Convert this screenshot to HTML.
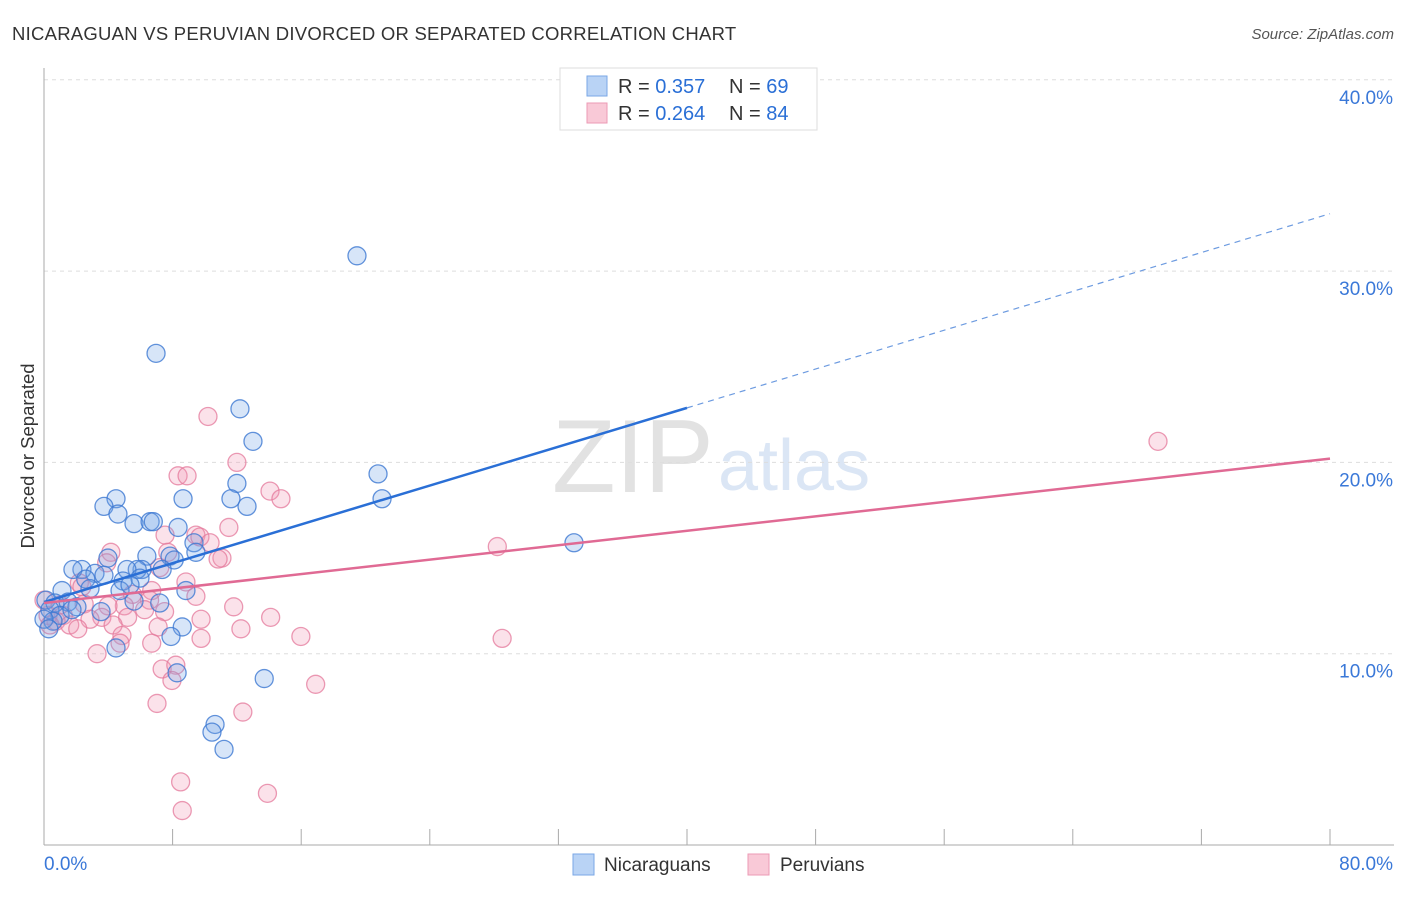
<!DOCTYPE html>
<html><head><meta charset="utf-8"><style>
body{margin:0;background:#fff;font-family:"Liberation Sans",sans-serif}
svg text{font-family:"Liberation Sans",sans-serif}
</style></head><body>
<svg id="chart" width="1406" height="892" xmlns="http://www.w3.org/2000/svg">
<text x="12" y="40" font-size="18.5" letter-spacing="0.25" fill="#333">NICARAGUAN VS PERUVIAN DIVORCED OR SEPARATED CORRELATION CHART</text>
<text x="1394" y="39" font-size="15" fill="#555" text-anchor="end" font-style="italic">Source: ZipAtlas.com</text>
<text transform="translate(34,456) rotate(-90)" font-size="18.5" fill="#333" text-anchor="middle">Divorced or Separated</text>
<g>
<text x="552" y="492" font-size="104" font-family="Liberation Serif" fill="#e2e2e2">ZIP</text>
<text x="718" y="490" font-size="72" fill="#dbe6f5">atlas</text>
</g>
<g id="grid"></g>
<g id="axes"></g>
<g id="pink"></g>
<g id="blue"></g>
<g id="trends"></g>
<g>
<rect x="560" y="68" width="257" height="62" fill="#fff" stroke="#ddd"/>
<rect x="587" y="76" width="20" height="20" fill="#b9d3f5" stroke="#7aa7e6"/>
<text x="618" y="93" font-size="20" fill="#333">R = <tspan fill="#2a6fd6">0.357</tspan></text>
<text x="729" y="93" font-size="20" fill="#333">N = <tspan fill="#2a6fd6">69</tspan></text>
<rect x="587" y="103" width="20" height="20" fill="#f9c9d7" stroke="#ec9ab4"/>
<text x="618" y="120" font-size="20" fill="#333">R = <tspan fill="#2a6fd6">0.264</tspan></text>
<text x="729" y="120" font-size="20" fill="#333">N = <tspan fill="#2a6fd6">84</tspan></text>
</g>
<g>
<rect x="573" y="854" width="21" height="21" fill="#b9d3f5" stroke="#7aa7e6"/>
<text x="604" y="871" font-size="19" fill="#333">Nicaraguans</text>
<rect x="748" y="854" width="21" height="21" fill="#f9c9d7" stroke="#ec9ab4"/>
<text x="780" y="871" font-size="19" fill="#333">Peruvians</text>
</g>
</svg>
<script>
const yTicks=[10,20,30,40];
const yTickLabels=["10.0%","20.0%","30.0%","40.0%"];
const xTicks=[0,8,16,24,32,40,48,56,64,72,80];
const blueX=[19.47,6.97,12.19,13.0,20.78,21.03,12.0,11.63,12.63,8.65,4.48,3.73,4.6,5.6,6.6,6.8,8.34,9.33,9.45,32.97,6.4,3.98,7.84,8.1,6.1,7.35,5.8,2.36,1.8,3.17,5.16,3.73,2.6,4.92,5.97,1.12,2.86,4.73,5.35,8.83,7.2,5.6,0.12,0.68,1.5,2.05,0.37,1.0,0.56,1.74,3.55,8.6,7.9,4.48,8.28,13.7,10.64,10.45,11.2,0,0.3];
const blueY=[30.8,25.7,22.8,21.1,19.4,18.1,18.9,18.1,17.7,18.1,18.1,17.7,17.3,16.8,16.9,16.9,16.6,15.8,15.3,15.8,15.1,15.0,15.1,14.9,14.4,14.4,14.4,14.4,14.4,14.2,14.4,14.1,13.9,13.8,13.95,13.3,13.4,13.3,13.6,13.3,12.65,12.75,12.8,12.65,12.7,12.45,12.3,12.0,11.7,12.3,12.2,11.4,10.9,10.3,9.0,8.7,6.3,5.9,5.0,11.8,11.3];
const pinkX=[69.3,10.2,12.0,8.34,8.9,14.06,14.74,11.5,9.45,9.7,10.33,7.53,28.2,7.7,11.07,10.83,4.16,3.9,7.2,2.2,2.36,6.7,8.83,6.57,9.45,5.5,5.0,3.98,2.5,11.8,6.26,7.5,9.77,14.1,5.2,3.6,1.2,0.25,0.75,1.6,2.86,4.3,2.1,7.1,12.25,4.85,4.73,6.7,9.77,15.98,28.5,3.3,7.35,8.2,7.96,16.9,7.03,12.37,8.5,13.9,8.6,0,0.37,1.0];
const pinkY=[21.1,22.4,20.0,19.3,19.3,18.5,18.1,16.6,16.2,16.1,15.8,16.2,15.6,15.3,15.0,14.95,15.3,14.75,14.5,13.7,13.5,13.3,13.75,12.8,13.0,13.1,12.5,12.5,12.6,12.45,12.3,12.2,11.8,11.9,11.9,11.9,12.0,12.0,11.7,11.5,11.8,11.5,11.3,11.4,11.3,10.95,10.55,10.55,10.8,10.9,10.8,10.0,9.2,9.4,8.6,8.4,7.4,6.95,3.3,2.7,1.8,12.8,11.5,12.55];
const blueTrend=[12.7,33.0];
const pinkTrend=[12.65,20.2];
const NS="http://www.w3.org/2000/svg";
const X0=44,X1=1330,Y0=845,pxPerY=19.13;
function xs(v){return X0+(X1-X0)*v/80;}
function ys(v){return Y0-v*pxPerY;}
function mk(t,a,p){const e=document.createElementNS(NS,t);for(const k in a)e.setAttribute(k,a[k]);p.appendChild(e);return e;}
const grid=document.getElementById('grid'),axes=document.getElementById('axes');
yTicks.forEach((v,i)=>{
 const l=mk('line',{x1:X0,x2:1394,y1:ys(v),y2:ys(v),stroke:'#ddd','stroke-dasharray':'4,4'},grid);
 
 
 const t=mk('text',{x:1393,y:ys(v)+24,'font-size':19,fill:'#3a78d8','text-anchor':'end'},axes);
 t.textContent=yTickLabels[i];
 
 
});
mk('line',{x1:X0,x2:X0,y1:68,y2:Y0,stroke:'#aaa'},axes);
mk('line',{x1:X0,x2:1394,y1:Y0,y2:Y0,stroke:'#aaa'},axes);
xTicks.forEach(v=>{
 const l=mk('line',{x1:xs(v),x2:xs(v),y1:Y0,y2:Y0-16,stroke:'#aaa'},axes);
 
 
});
let t=mk('text',{x:44,y:870,'font-size':19,fill:'#3a78d8'},axes);t.textContent='0.0%';


t=mk('text',{x:1393,y:870,'font-size':19,fill:'#3a78d8','text-anchor':'end'},axes);t.textContent='80.0%';


function pts(X,Y,g,fill,stroke,name){X.forEach((x,i)=>{
 const c=mk('circle',{cx:xs(x),cy:ys(Y[i]),r:9,fill:fill,stroke:stroke,'stroke-width':1.3},g);
 
 
});}
pts(pinkX,pinkY,document.getElementById('pink'),'rgba(242,150,180,0.28)','rgba(228,120,155,0.75)','peruvian-point');
pts(blueX,blueY,document.getElementById('blue'),'rgba(110,160,230,0.28)','rgba(60,120,210,0.8)','nicaraguan-point');
const tr=document.getElementById('trends');
const bAt=x=>blueTrend[0]+(blueTrend[1]-blueTrend[0])*x/80;
let l=mk('line',{x1:xs(0),y1:ys(bAt(0)),x2:xs(40),y2:ys(bAt(40)),stroke:'#2a6fd6','stroke-width':2.5},tr);


l=mk('line',{x1:xs(40),y1:ys(bAt(40)),x2:xs(80),y2:ys(bAt(80)),stroke:'#6d9be0','stroke-width':1.2,'stroke-dasharray':'6,5'},tr);


l=mk('line',{x1:xs(0),y1:ys(pinkTrend[0]),x2:xs(80),y2:ys(pinkTrend[1]),stroke:'#e06a94','stroke-width':2.5},tr);


</script>
</body></html>
